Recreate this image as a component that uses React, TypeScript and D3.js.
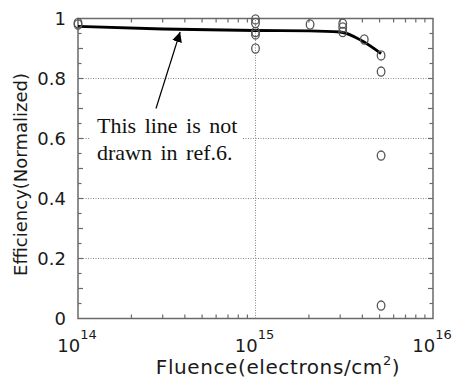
import React, { useEffect, useRef } from 'react';
import * as d3 from 'd3';

// measured points (fluence in electrons/cm^2, normalized efficiency)
const pointFluence = [1e14, 1e14, 1e15, 1e15, 1e15, 1e15, 1e15, 2.03e15, 3.1e15, 3.1e15, 3.1e15, 4.1e15, 5.1e15, 5.1e15, 5.1e15, 5.1e15];
const pointEff = [0.98, 0.985, 0.997, 0.985, 0.955, 0.947, 0.9, 0.98, 0.983, 0.97, 0.955, 0.93, 0.877, 0.823, 0.543, 0.043];

// fitted curve
const fitFluence = [1e14, 3e14, 1e15, 2e15, 3e15, 4e15, 5.1e15];
const fitEff = [0.974, 0.965, 0.96, 0.959, 0.955, 0.925, 0.883];

const yTickValues = [0, 0.2, 0.4, 0.6, 0.8, 1];
const yTickLabels = ['0', '0.2', '0.4', '0.6', '0.8', '1'];
const xTickExps = [14, 15, 16];
const gridY = [0.2, 0.4, 0.6, 0.8];
const gridX = [1e15];

const noteLines = ['This line is not', 'drawn in ref.6.'];

const W = 452;
const H = 379;
const margin = { top: 18.5, right: 19, bottom: 60, left: 78 };

const App: React.FC = () => {
  const svgRef = useRef<SVGSVGElement>(null);

  useEffect(() => {
    const svg = d3.select(svgRef.current);
    svg.selectAll('*').remove();

    const x = d3.scaleLog().domain([1e14, 1e16]).range([margin.left, W - margin.right]);
    const y = d3.scaleLinear().domain([0, 1]).range([H - margin.bottom - 0.5, margin.top]);
    const [x0, x1] = x.range();
    const [y0, y1] = y.range();

    const axisColor = '#6a6a6a';
    const sans = '"DejaVu Sans", sans-serif';

    // grid
    svg.append('g').selectAll('line').data(gridY).enter().append('line')
      .attr('x1', x0).attr('x2', x1)
      .attr('y1', d => y(d)).attr('y2', d => y(d))
      .attr('stroke', '#8a8a8a').attr('stroke-width', 1).attr('stroke-dasharray', '1,1.5');
    svg.append('g').selectAll('line').data(gridX).enter().append('line')
      .attr('x1', d => x(d)).attr('x2', d => x(d))
      .attr('y1', y0).attr('y2', y1)
      .attr('stroke', '#8a8a8a').attr('stroke-width', 1).attr('stroke-dasharray', '1,1.5');

    // frame
    svg.append('rect')
      .attr('x', x0).attr('y', y1).attr('width', x1 - x0).attr('height', y0 - y1)
      .attr('fill', 'none').attr('stroke', axisColor).attr('stroke-width', 1.5);

    // ticks
    const xMinor: number[] = [];
    for (let e = 14; e < 16; e++) for (let k = 2; k <= 9; k++) xMinor.push(k * Math.pow(10, e));
    const ticks = svg.append('g').attr('stroke', axisColor).attr('stroke-width', 1.2);
    xMinor.forEach(v => {
      ticks.append('line').attr('x1', x(v)).attr('x2', x(v)).attr('y1', y0).attr('y2', y0 - 4);
      ticks.append('line').attr('x1', x(v)).attr('x2', x(v)).attr('y1', y1).attr('y2', y1 + 4);
    });
    d3.range(0.05, 1, 0.05).forEach(v => {
      const len = Math.abs(v * 10 - Math.round(v * 10)) < 1e-6 ? 5 : 3.5;
      ticks.append('line').attr('x1', x0).attr('x2', x0 + len).attr('y1', y(v)).attr('y2', y(v));
      ticks.append('line').attr('x1', x1).attr('x2', x1 - len).attr('y1', y(v)).attr('y2', y(v));
    });

    // y tick labels
    svg.append('g').selectAll('text').data(yTickValues).enter().append('text')
      .attr('x', x0 - 12).attr('y', d => y(d)).attr('dy', '0.36em')
      .attr('text-anchor', 'end').attr('font-family', sans).attr('font-size', 18).attr('fill', '#1a1a1a')
      .text((_d, i) => yTickLabels[i]);

    // x tick labels 10^n
    xTickExps.forEach(e => {
      const t = svg.append('text')
        .attr('x', x(Math.pow(10, e)) - 1).attr('y', 352)
        .attr('text-anchor', 'middle').attr('font-family', sans).attr('font-size', 18).attr('fill', '#1a1a1a');
      t.append('tspan').text('10');
      t.append('tspan').attr('dy', -13).attr('font-size', 13).text(String(e));
    });

    // axis titles
    const xt = svg.append('text')
      .attr('x', 278).attr('y', 374).attr('text-anchor', 'middle')
      .attr('font-family', sans).attr('font-size', 20).attr('letter-spacing', 0.6).attr('fill', '#1a1a1a');
    xt.append('tspan').text('Fluence(electrons/cm');
    xt.append('tspan').attr('dy', -9).attr('font-size', 13).text('2');
    xt.append('tspan').attr('dy', 9).text(')');

    svg.append('text')
      .attr('transform', `translate(27,${(y0 + y1) / 2 + 6}) rotate(-90)`)
      .attr('text-anchor', 'middle')
      .attr('font-family', sans).attr('font-size', 18).attr('fill', '#1a1a1a')
      .text('Efficiency(Normalized)');

    // annotation box + text
    svg.append('rect')
      .attr('x', x(1.17e14)).attr('y', y(0.683))
      .attr('width', x(8.4e14) - x(1.17e14)).attr('height', y(0.505) - y(0.683))
      .attr('fill', 'white');
    noteLines.forEach((s, i) => {
      svg.append('text')
        .attr('x', x(1.28e14)).attr('y', y(0.62 - i * 0.09))
        .attr('font-family', '"Liberation Serif", "Times New Roman", serif')
        .attr('font-size', 22).attr('word-spacing', 3).attr('fill', '#111')
        .text(s);
    });

    // arrow
    svg.append('defs').append('marker')
      .attr('id', 'ah').attr('viewBox', '0 0 10 10').attr('refX', 10).attr('refY', 5)
      .attr('markerWidth', 10).attr('markerHeight', 10).attr('markerUnits', 'userSpaceOnUse')
      .attr('orient', 'auto')
      .append('path').attr('d', 'M0,0 L10,5 L0,10 z').attr('fill', '#000');
    svg.append('line')
      .attr('x1', x(2.75e14)).attr('y1', y(0.70))
      .attr('x2', x(3.76e14)).attr('y2', y(0.955))
      .attr('stroke', '#000').attr('stroke-width', 1.2).attr('marker-end', 'url(#ah)');

    // fit line
    const line = d3.line<number>()
      .x((_d, i) => x(fitFluence[i]))
      .y(d => y(d))
      .curve(d3.curveMonotoneX);
    svg.append('path').datum(fitEff)
      .attr('d', line).attr('fill', 'none').attr('stroke', '#000').attr('stroke-width', 2.8);

    // points
    svg.append('g').selectAll('ellipse').data(pointEff).enter().append('ellipse')
      .attr('cx', (_d, i) => x(pointFluence[i])).attr('cy', d => y(d))
      .attr('rx', 3.8).attr('ry', 4.6)
      .attr('fill', 'none').attr('stroke', '#555').attr('stroke-width', 1.3);
  }, []);

  return (
    <svg ref={svgRef} width={W} height={H}
      style={{ position: 'absolute', left: 0, top: 0, background: '#fff' }} />
  );
};

export default App;
